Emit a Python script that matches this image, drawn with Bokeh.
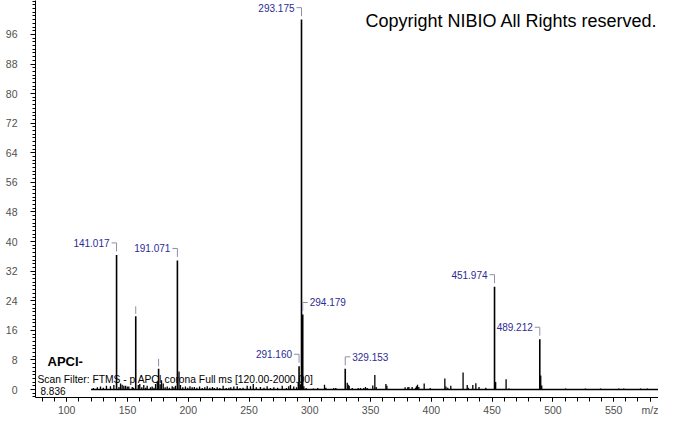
from bokeh.plotting import figure
from bokeh.models import FixedTicker, Range1d
from bokeh.embed import file_html
from bokeh.resources import INLINE
from bokeh.core.properties import value

# ---------------- data ----------------
label_mz = [141.017, 191.071, 291.160, 293.175, 294.179, 329.153, 451.974, 489.212]
label_int = [36.4, 34.9, 6.3, 100.0, 20.3, 5.6, 27.8, 13.6]
label_side = ["left", "left", "left", "left", "right", "right", "left", "left"]

marked_mz = [156.8, 175.6]
marked_int = [19.8, 5.6]

minor_mz = [122.0, 125.2, 127.8, 130.1, 132.7, 136.0, 138.8, 143.0, 144.3, 145.6,
            147.0, 148.4, 149.8, 151.1, 153.9, 155.0, 158.9, 160.1, 161.8, 163.4,
            165.0, 166.2, 168.9, 170.3, 171.8, 173.1, 174.5, 176.9, 178.0, 179.4,
            181.0, 182.7, 184.5, 186.8, 188.2, 189.5, 192.4, 193.6, 195.5, 197.7,
            199.6, 201.4, 203.2, 205.0, 207.1, 209.3, 211.5, 213.6, 215.6, 217.8,
            219.9, 221.4, 223.8, 226.0, 228.7, 231.2, 233.4, 235.0, 237.5, 240.3,
            242.6, 245.1, 248.5, 251.2, 253.5, 256.0, 259.4, 262.3, 264.9, 267.6,
            270.4, 273.5, 277.3, 280.8, 282.7, 284.1, 286.8, 289.1, 290.5, 292.2,
            295.1, 297.0, 303.0, 306.5, 312.1, 313.2, 319.7, 321.4, 330.8, 331.6,
            332.4, 334.9, 339.8, 341.7, 344.4, 345.8, 347.2, 351.8, 353.5, 354.6,
            362.6, 363.4, 378.4, 380.6, 381.5, 384.2, 387.0, 387.8, 388.6, 389.7,
            394.1, 399.0, 411.1, 412.0, 413.5, 416.0, 426.1, 429.5, 430.3, 434.1,
            436.6, 439.2, 444.8, 452.9, 461.5, 463.9, 490.0, 490.8, 510.4, 526.8,
            539.2, 554.2, 558.3, 572.1, 577.6]
minor_int = [0.4, 0.6, 0.8, 0.5, 1.0, 0.9, 1.2, 0.7, 1.6, 1.3,
             1.0, 1.0, 0.8, 0.8, 0.7, 0.5, 1.2, 1.5, 0.6, 1.2,
             0.5, 1.0, 0.6, 0.8, 0.5, 1.5, 2.0, 1.4, 2.5, 1.6,
             0.6, 0.8, 0.5, 0.9, 0.6, 1.0, 4.9, 1.2, 0.6, 0.8,
             0.5, 0.9, 0.6, 0.7, 0.5, 0.8, 0.4, 0.6, 0.9, 0.5,
             0.7, 0.4, 0.6, 0.4, 1.0, 0.4, 0.5, 0.6, 0.8, 0.9,
             0.4, 0.5, 1.0, 0.9, 1.5, 0.6, 0.7, 0.5, 0.9, 0.4,
             0.6, 0.5, 1.0, 0.4, 0.9, 1.2, 0.8, 0.6, 2.0, 1.4,
             0.9, 0.4, 0.3, 0.4, 1.3, 0.5, 0.4, 0.4, 1.8, 1.3,
             1.0, 0.4, 0.4, 0.4, 0.4, 0.7, 0.4, 1.1, 3.9, 0.7,
             1.5, 1.0, 0.6, 0.6, 0.7, 0.7, 0.5, 0.9, 1.3, 0.7,
             1.6, 0.4, 3.0, 0.8, 0.5, 1.0, 4.6, 1.2, 0.5, 1.2,
             1.7, 0.7, 0.5, 2.0, 2.8, 0.3, 3.8, 1.1, 0.3, 0.3,
             0.3, 0.3, 0.3, 0.3, 0.3]

scan_range = [120.0, 2000.0]

x_ticks = [100, 150, 200, 250, 300, 350, 400, 450, 500, 550]
x_unit_tick = 580
x_unit_label = "m/z"
y_ticks = [0, 8, 16, 24, 32, 40, 48, 56, 64, 72, 80, 88, 96]

copyright_text = "Copyright NIBIO All Rights reserved."
ion_mode = "APCI-"
scan_filter = "Scan Filter: FTMS - p APCI corona Full ms [120.00-2000.00]"
retention = "8.836"

# ---------------- layout ----------------
W, H = 658, 418
BL, BB = 35, 20
frame_w, frame_h = W - BL, H - BB
ppx = 1.2155            # px per m/z unit
zero_px = 8             # px of zero line above x axis
ppy = (frame_h - zero_px - 34) / 96.0
x_start = 74.33
x_end = x_start + frame_w / ppx
y_start = -zero_px / ppy
y_end = y_start + frame_h / ppy

FONT = value("Liberation Sans")
LBL_BLUE = "#2b2b96"
BRK_GRAY = "#8e8ea8"

p = figure(width=W, height=H, x_range=Range1d(x_start, x_end), y_range=Range1d(y_start, y_end),
           output_backend="svg", toolbar_location=None,
           min_border_left=BL, min_border_right=0, min_border_top=0, min_border_bottom=BB)
p.outline_line_color = None
p.xgrid.visible = False
p.ygrid.visible = False
p.background_fill_color = "white"
p.border_fill_color = "white"

# axes
p.xaxis.ticker = FixedTicker(ticks=x_ticks + [x_unit_tick], minor_ticks=list(range(80, 590, 10)))
p.xaxis.major_label_overrides = {x_unit_tick: x_unit_label}
p.yaxis.ticker = FixedTicker(ticks=y_ticks, minor_ticks=list(range(-2, 106)))
for ax in (p.xaxis, p.yaxis):
    ax.axis_line_color = "black"
    ax.major_tick_line_color = "black"
    ax.minor_tick_line_color = "black"
    ax.major_label_text_font = "Liberation Sans"
    ax.major_label_text_font_size = "10.5px"
    ax.major_label_text_color = "#505050"
p.xaxis.major_tick_out = 4
p.xaxis.major_tick_in = 0
p.xaxis.minor_tick_out = 4
p.xaxis.minor_tick_in = 0
p.xaxis.major_label_standoff = 2
p.yaxis.major_tick_out = 5
p.yaxis.major_tick_in = 0
p.yaxis.minor_tick_out = 3
p.yaxis.minor_tick_in = 0
p.yaxis.major_label_standoff = 13

# baseline over scanned range
p.segment(x0=[scan_range[0]], y0=[0], x1=[min(scan_range[1], x_end)], y1=[0],
          line_color="black", line_width=1.5)

# peaks
p.segment(x0=minor_mz, y0=[0] * len(minor_mz), x1=minor_mz, y1=minor_int,
          line_color="black", line_width=1.3)
p.segment(x0=marked_mz, y0=[0] * len(marked_mz), x1=marked_mz, y1=marked_int,
          line_color="black", line_width=1.6)
p.segment(x0=label_mz, y0=[0] * len(label_mz), x1=label_mz, y1=label_int,
          line_color="black", line_width=1.6)

# gray markers above unlabeled peaks
p.segment(x0=marked_mz, y0=[v + 2.5 / ppy for v in marked_int],
          x1=marked_mz, y1=[v + 10 / ppy for v in marked_int],
          line_color=BRK_GRAY, line_width=1)

# labels with brackets
for side in ("left", "right"):
    xs, ys, txt, yoff = [], [], [], []
    hx0, hx1, hy, vy0, vy1 = [], [], [], [], []
    sgn = -1 if side == "left" else 1
    for mz, it, sd in zip(label_mz, label_int, label_side):
        if sd != side:
            continue
        peak_sy = (y_end - it) * ppy
        top_sy = max(peak_sy - 12, 7)
        y_top = y_end - top_sy / ppy
        xs.append(mz)
        ys.append(it)
        txt.append(f"{mz:.3f}")
        yoff.append(top_sy - peak_sy)
        hx0.append(mz)
        hx1.append(mz + sgn * 5 / ppx)
        hy.append(y_top)
        vy0.append(y_top)
        vy1.append(it + 3.5 / ppy)
    p.segment(x0=hx0, y0=hy, x1=hx1, y1=hy, line_color=BRK_GRAY, line_width=1)
    p.segment(x0=xs, y0=vy0, x1=xs, y1=vy1, line_color=BRK_GRAY, line_width=1)
    p.text(x=xs, y=ys, text=txt, x_offset=sgn * 7, y_offset=yoff,
           text_align="right" if side == "left" else "left", text_baseline="middle",
           text_font=FONT, text_font_size="10px", text_color=LBL_BLUE)

# header / footer texts
p.text(x=[x_end], y=[y_end], text=[copyright_text], x_offset=-1, y_offset=20,
       text_align="right", text_baseline="alphabetic",
       text_font=FONT, text_font_size="18px", text_color="black")
p.text(x=[x_start], y=[y_start], text=[ion_mode], x_offset=12, y_offset=-36,
       text_align="left", text_baseline="middle",
       text_font=FONT, text_font_size="13px", text_font_style="bold", text_color="black")
p.text(x=[x_start], y=[y_start], text=[scan_filter], x_offset=2, y_offset=-18,
       text_align="left", text_baseline="middle",
       text_font=FONT, text_font_size="10.3px", text_color="black")
p.text(x=[x_start], y=[y_start], text=[retention], x_offset=5, y_offset=-7,
       text_align="left", text_baseline="middle",
       text_font=FONT, text_font_size="10px", text_color="black")

open("out.html", "w").write(file_html(p, INLINE))
